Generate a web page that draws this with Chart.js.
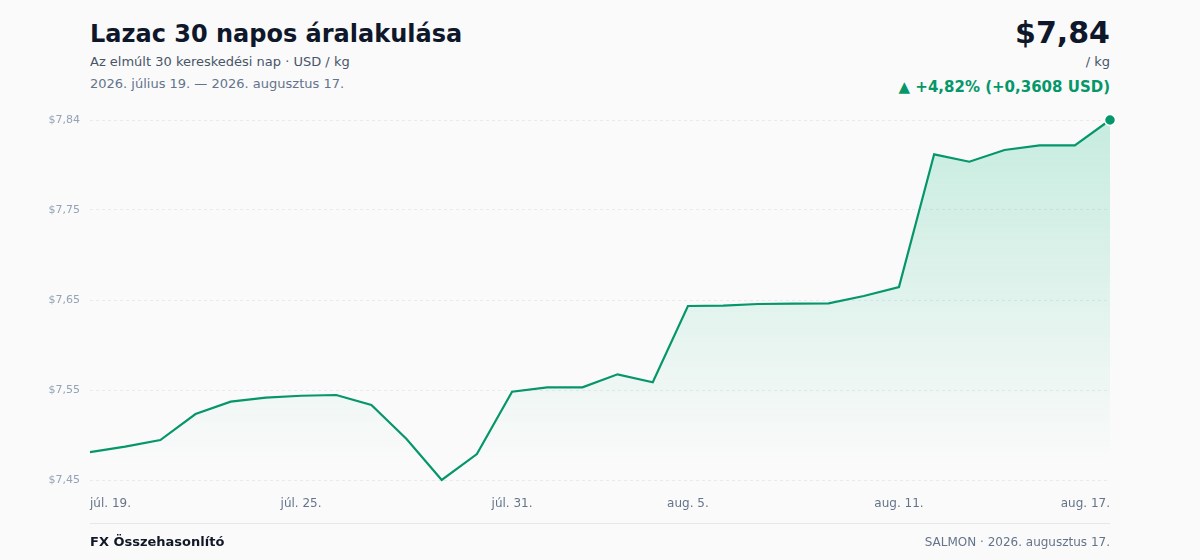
<!DOCTYPE html>
<html lang="hu">
<head>
<meta charset="utf-8">
<script src="https://cdn.jsdelivr.net/npm/chart.js@4/dist/chart.umd.min.js"></script>
<style>
  html, body { margin: 0; padding: 0; }
  body { width: 1200px; height: 560px; background: #fafafa; font-family: "DejaVu Sans", sans-serif; position: relative; overflow: hidden; }
  .abs { position: absolute; white-space: nowrap; }
  #title { left: 90px; top: 20px; font-size: 24px; font-weight: bold; color: #0f172a; }
  #sub { left: 90px; top: 54px; font-size: 13px; color: #475569; }
  #range { left: 90px; top: 76px; font-size: 13px; color: #64748b; }
  #price { right: 90px; top: 15px; font-size: 30px; font-weight: bold; color: #0f172a; }
  #unit { right: 90px; top: 54px; font-size: 13px; color: #475569; }
  #change { right: 90px; top: 78px; font-size: 15px; font-weight: bold; color: #059669; }
  #rule { left: 90px; width: 1020px; top: 523px; height: 1px; background: #e5e7eb; }
  #brand { left: 90px; top: 534px; font-size: 13px; font-weight: bold; color: #111827; }
  #src { right: 90px; top: 535px; font-size: 12px; color: #64748b; }
  #wrap { position: absolute; left: 0; top: 0; width: 1200px; height: 560px; }
</style>
</head>
<body>
<div class="abs" id="title">Lazac 30 napos áralakulása</div>
<div class="abs" id="sub">Az elmúlt 30 kereskedési nap · USD / kg</div>
<div class="abs" id="range">2026. július 19. — 2026. augusztus 17.</div>
<div class="abs" id="price">$7,84</div>
<div class="abs" id="unit">/ kg</div>
<div class="abs" id="change">▲ +4,82% (+0,3608 USD)</div>
<div id="wrap"><canvas id="mygraph"></canvas></div>
<div class="abs" id="rule"></div>
<div class="abs" id="brand">FX Összehasonlító</div>
<div class="abs" id="src">SALMON · 2026. augusztus 17.</div>

<script>
// 30 trading days, júl. 19. - aug. 17.
let days = ["júl. 19.","júl. 20.","júl. 21.","júl. 22.","júl. 23.","júl. 24.","júl. 25.","júl. 26.","júl. 27.","júl. 28.",
  "júl. 29.","júl. 30.","júl. 31.","aug. 1.","aug. 2.","aug. 3.","aug. 4.","aug. 5.","aug. 6.","aug. 7.",
  "aug. 8.","aug. 9.","aug. 10.","aug. 11.","aug. 12.","aug. 13.","aug. 14.","aug. 15.","aug. 16.","aug. 17."];
let prices = [7.4810,7.4869,7.4942,7.5226,7.5361,7.5405,7.5426,7.5434,7.5325,7.4953,
  7.4505,7.4789,7.5470,7.5518,7.5518,7.5660,7.5573,7.6407,7.6410,7.6429,
  7.6432,7.6436,7.6516,7.6614,7.8065,7.7984,7.8112,7.8163,7.8163,7.8440];
let shownDays = ["júl. 19.","júl. 25.","júl. 31.","aug. 5.","aug. 11.","aug. 17."];
let yTickCount = 5;

const green = "#059669";
var ctx = document.getElementById("mygraph");
var last = prices.length - 1;
var yMin = Math.min(...prices);
var yMax = Math.max(...prices);

var mygraph = new Chart(ctx, {
  type: 'line',
  data: {
    labels: days,
    datasets: [{
      data: prices,
      label: "SALMON",
      borderColor: green,
      borderWidth: 2.2,
      tension: 0,
      clip: false,
      fill: 'origin',
      backgroundColor: function(c) {
        const area = c.chart.chartArea;
        if (!area) return "rgba(5,150,105,0.1)";
        const g = c.chart.ctx.createLinearGradient(0, area.top, 0, area.bottom);
        g.addColorStop(0, "rgba(16,185,129,0.22)");
        g.addColorStop(0.95, "rgba(16,185,129,0.0)");
        return g;
      },
      pointRadius: function(c) { return c.dataIndex === last ? 5.5 : 0; },
      pointBackgroundColor: green,
      pointBorderColor: "#ffffff",
      pointBorderWidth: 1.5,
      pointHoverRadius: 0
    }]
  },
  options: {
    responsive: true,
    maintainAspectRatio: false,
    animation: false,
    layout: { padding: { left: 40, right: 90, top: 120, bottom: 40 } },
    plugins: { legend: { display: false }, tooltip: { enabled: false } },
    scales: {
      x: {
        grid: { display: false, drawTicks: false },
        border: { display: false },
        afterFit: function(s) { s.height = 40; },
        ticks: {
          autoSkip: false,
          maxRotation: 0,
          align: 'inner',
          padding: 17,
          color: "#64748b",
          font: { family: "DejaVu Sans", size: 12 },
          callback: function(v, i) {
            let lab = this.getLabelForValue(v);
            return shownDays.includes(lab) ? lab : '';
          }
        }
      },
      y: {
        min: yMin,
        max: yMax,
        afterFit: function(s) { s.width = 50; },
        afterBuildTicks: function(s) {
          let t = [];
          for (let i = 0; i < yTickCount; i++) t.push({ value: yMin + (yMax - yMin) * i / (yTickCount - 1) });
          s.ticks = t;
        },
        grid: { color: "#e8eaed", drawTicks: false, lineWidth: 1 },
        border: { display: false, dash: [3, 3] },
        ticks: {
          padding: 10,
          color: "#94a3b8",
          font: { family: "DejaVu Sans", size: 11 },
          callback: function(v) { return "$" + v.toFixed(2).replace(".", ","); }
        }
      }
    }
  }
});
</script>
</body>
</html>
